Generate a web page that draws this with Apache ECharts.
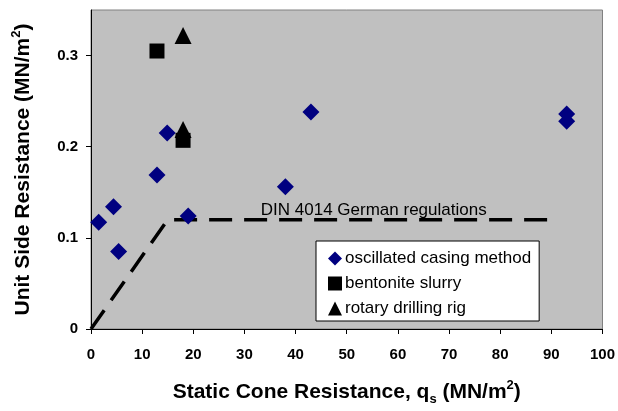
<!DOCTYPE html>
<html>
<head>
<meta charset="UTF-8">
<script src="https://cdn.jsdelivr.net/npm/echarts@6/dist/echarts.min.js"></script>
<style>
  html, body { margin: 0; padding: 0; background: #fff; }
  #c { width: 618px; height: 411px; }
</style>
</head>
<body>
<div id="c"></div>
<script>
// readings
const oscX = [1.5, 4.4, 5.4, 12.9, 14.9, 19, 38, 43, 93, 93];
const oscY = [0.117, 0.134, 0.085, 0.169, 0.215, 0.124, 0.156, 0.238, 0.236, 0.228];
const bentX = [12.9, 18];
const bentY = [0.305, 0.207];
const rotX = [18, 18];
const rotY = [0.322, 0.219];
// DIN 4014 limit line
const dinX = [0, 15, 90];
const dinY = [0, 0.12, 0.12];
const xTicks = [0, 10, 20, 30, 40, 50, 60, 70, 80, 90, 100];
const yTicks = [0, 0.1, 0.2, 0.3];

const FONT = 'Arial, "Liberation Sans", sans-serif';
const zip = (xs, ys) => xs.map((x, i) => [x, ys[i]]);

const chart = echarts.init(document.getElementById('c'), null, { renderer: 'canvas' });

const nameRich = {
  a: { fontFamily: FONT, fontWeight: 'bold', fontSize: 21, color: '#000', lineHeight: 27 },
  sub: { fontFamily: FONT, fontWeight: 'bold', fontSize: 13, color: '#000', verticalAlign: 'bottom', lineHeight: 25 },
  sup: { fontFamily: FONT, fontWeight: 'bold', fontSize: 13, color: '#000', verticalAlign: 'top', lineHeight: 27 }
};

chart.setOption({
  animation: false,
  backgroundColor: '#fff',
  grid: {
    left: 91, right: 15, top: 10, bottom: 79,
    show: true, backgroundColor: '#c0c0c0', borderColor: '#808080', borderWidth: 1
  },
  xAxis: {
    type: 'value', min: 0, max: 100, interval: 10,
    splitLine: { show: false },
    axisLine: { lineStyle: { color: '#000', width: 1 } },
    axisTick: { length: 5, lineStyle: { color: '#000' } },
    axisLabel: { margin: 18, color: '#000', fontFamily: FONT, fontWeight: 'bold', fontSize: 15 },
    name: '{a|Static Cone Resistance, q}{sub|s}{a| (MN/m}{sup|2}{a|)}',
    nameLocation: 'middle', nameGap: 50,
    nameTextStyle: { rich: nameRich }
  },
  yAxis: {
    type: 'value', min: 0, max: 0.35,
    splitLine: { show: false },
    axisLine: { show: true, lineStyle: { color: '#000', width: 1 } },
    axisTick: { show: true, length: 5, lineStyle: { color: '#000' }, customValues: yTicks },
    axisLabel: { margin: 13, color: '#000', fontFamily: FONT, fontWeight: 'bold', fontSize: 15, customValues: yTicks,
      formatter: v => v === 0 ? '0' : v.toFixed(1) },
    name: '{a|Unit Side Resistance (MN/m}{sup|2}{a|)}',
    nameLocation: 'middle', nameGap: 54, nameRotate: 90,
    nameTextStyle: { rich: nameRich }
  },
  legend: {
    left: 316, top: 241,
    orient: 'vertical',
    backgroundColor: '#fff', borderColor: '#000', borderWidth: 1,
    padding: [9, 8, 4, 12],
    itemWidth: 14, itemHeight: 14, itemGap: 8,
    textStyle: { fontFamily: FONT, fontSize: 17, color: '#000', lineHeight: 16, padding: [0, 0, 0, -2] },
    data: ['oscillated casing method', 'bentonite slurry', 'rotary drilling rig']
  },
  series: [
    {
      name: 'DIN 4014', type: 'line', data: zip(dinX, dinY),
      symbol: 'none', silent: true, z: 1,
      lineStyle: { color: '#000', width: 3.5, type: [23, 12] },
      markPoint: {
        symbol: 'circle', symbolSize: 0,
        data: [{ coord: [33, 0.12], name: 'DIN 4014 German regulations' }],
        label: { show: true, position: 'right', offset: [-4, -9], formatter: '{b}', fontFamily: FONT, fontSize: 17, color: '#000' }
      }
    },
    {
      name: 'oscillated casing method', type: 'scatter', data: zip(oscX, oscY),
      symbol: 'diamond', symbolSize: 17, itemStyle: { color: '#000080', opacity: 1 }, z: 3
    },
    {
      name: 'bentonite slurry', type: 'scatter', data: zip(bentX, bentY),
      symbol: 'rect', symbolSize: 15, itemStyle: { color: '#000', opacity: 1 }, z: 3
    },
    {
      name: 'rotary drilling rig', type: 'scatter', data: zip(rotX, rotY),
      symbol: 'triangle', symbolSize: 17, itemStyle: { color: '#000', opacity: 1 }, z: 3
    }
  ]
});
</script>
</body>
</html>
